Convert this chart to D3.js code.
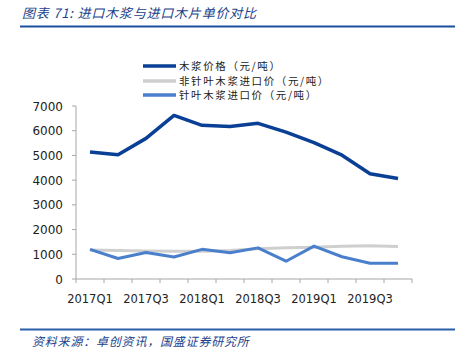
<!DOCTYPE html>
<html><head><meta charset="utf-8">
<script src="https://cdn.jsdelivr.net/npm/d3@7"></script>
<style>body{margin:0;background:#fff;} svg{display:block;}</style>
</head><body>
<script>
const categories = ["2017Q1","2017Q2","2017Q3","2017Q4","2018Q1","2018Q2","2018Q3","2018Q4","2019Q1","2019Q2","2019Q3","2019Q4"];
const pulpPrice = [5140,5030,5690,6620,6220,6170,6300,5940,5520,5010,4260,4070];
const hardwoodChip = [1170,1150,1130,1120,1120,1150,1220,1260,1280,1330,1350,1310];
const softwoodChip = [1200,830,1070,890,1200,1060,1260,720,1330,900,640,640];
const yTicks = [0,1000,2000,3000,4000,5000,6000,7000];
const seriesNames = ["木浆价格（元/吨）","非针叶木浆进口价（元/吨）","针叶木浆进口价（元/吨）"];
const seriesColors = ["#0a3f96","#cfcfcf","#4a7fcc"];
const seriesData = [pulpPrice, hardwoodChip, softwoodChip];

const W=462,H=357;
const svg=d3.select("body").append("svg").attr("width",W).attr("height",H);
const cjk="'Noto Sans CJK SC','Noto Sans',sans-serif";

// title
svg.append("text").attr("x",22).attr("y",18).attr("font-family",cjk).attr("font-size",13)
  .attr("font-style","italic").attr("letter-spacing",0.8).attr("fill","#1a3f8c").text("图表 71:  进口木浆与进口木片单价对比");
svg.append("line").attr("x1",20).attr("x2",455).attr("y1",26.5).attr("y2",26.5).attr("stroke","#1a4f9c").attr("stroke-width",2);
// footer
svg.append("line").attr("x1",20).attr("x2",455).attr("y1",329.5).attr("y2",329.5).attr("stroke","#2a5fa8").attr("stroke-width",2);
svg.append("text").attr("x",32).attr("y",346).attr("font-family",cjk).attr("font-size",12)
  .attr("font-style","italic").attr("letter-spacing",0.8).attr("fill","#1a3f8c").text("资料来源：卓创资讯，国盛证券研究所");

const x=d3.scaleBand().domain(categories).range([76,412]);
const y=d3.scaleLinear().domain([0,7000]).range([279,106]);

const axFont="'DejaVu Sans',Verdana,sans-serif";
const gx=svg.append("g").attr("transform","translate(0,279)");
gx.append("line").attr("x1",76).attr("x2",412).attr("stroke","#a6a6a6");
const tickPos=categories.map(c=>x(c)).concat([412]);
gx.selectAll("line.t").data(tickPos).enter().append("line").attr("class","t")
  .attr("x1",d=>d).attr("x2",d=>d).attr("y1",0).attr("y2",4).attr("stroke","#a6a6a6");
gx.selectAll("text").data(categories.filter((d,i)=>i%2===0)).enter().append("text")
  .attr("x",d=>x(d)+x.bandwidth()/2).attr("y",24).attr("text-anchor","middle")
  .attr("font-family",axFont).attr("font-size",11.5).attr("fill","#222").text(d=>d);

const gy=svg.append("g");
gy.append("line").attr("x1",76).attr("x2",76).attr("y1",106).attr("y2",279).attr("stroke","#a6a6a6");
gy.selectAll("line.t").data(yTicks).enter().append("line").attr("class","t")
  .attr("x1",72).attr("x2",76).attr("y1",d=>y(d)).attr("y2",d=>y(d)).attr("stroke","#a6a6a6");
gy.selectAll("text").data(yTicks).enter().append("text")
  .attr("x",63).attr("y",d=>y(d)+4.5).attr("text-anchor","end")
  .attr("font-family",axFont).attr("font-size",12).attr("fill","#222").text(d=>d);

const line=d3.line().x((d,i)=>x(categories[i])+x.bandwidth()/2).y(d=>y(d));
[1,2,0].forEach(k=>{
  svg.append("path").datum(seriesData[k]).attr("d",line).attr("fill","none")
    .attr("stroke",seriesColors[k]).attr("stroke-width",k===0?3.5:3).attr("stroke-linejoin","round");
});

// legend
const ly=[66,81,95];
seriesNames.forEach((n,i)=>{
  svg.append("line").attr("x1",143).attr("x2",176).attr("y1",ly[i]).attr("y2",ly[i])
    .attr("stroke",seriesColors[i]).attr("stroke-width",3.5);
  svg.append("text").attr("x",179).attr("y",ly[i]+4).attr("font-family",cjk).attr("font-size",10.5)
    .attr("letter-spacing",1.6).attr("fill","#222").text(n);
});
</script>
</body></html>
